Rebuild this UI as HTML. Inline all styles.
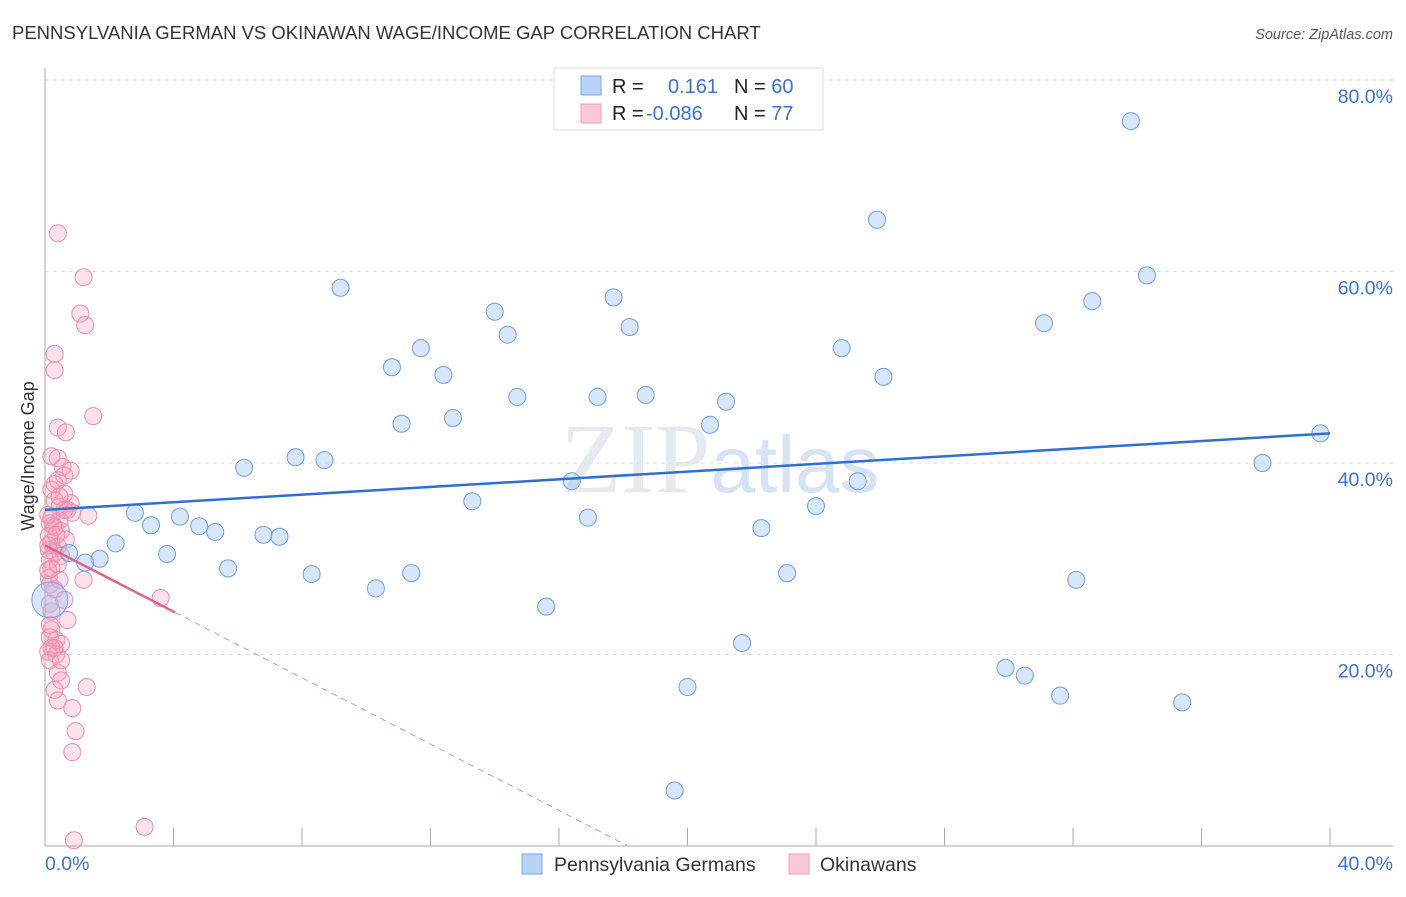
<!DOCTYPE html>
<html><head><meta charset="utf-8"><style>
body{margin:0;background:#fff;font-family:"Liberation Sans",sans-serif}
</style></head><body>
<svg id="c" width="1406" height="892" xmlns="http://www.w3.org/2000/svg">
<text x="12" y="39" font-size="18.5" fill="#333">PENNSYLVANIA GERMAN VS OKINAWAN WAGE/INCOME GAP CORRELATION CHART</text>
<text x="1393" y="39" font-size="14.5" fill="#555" font-style="italic" text-anchor="end">Source: ZipAtlas.com</text>
<text x="720" y="492" font-size="100" fill="#e6e9ee" text-anchor="middle" font-family="Liberation Serif,serif">ZIP<tspan fill="#d6e3f3" font-family="Liberation Sans,sans-serif" font-size="80">atlas</tspan></text>
<g id="grid"></g>
<g id="axes"></g>
<g id="pts"></g>
<g id="trend"></g>
<text transform="translate(34,456) rotate(-90)" font-size="18" fill="#333" text-anchor="middle">Wage/Income Gap</text>
<g>
<rect x="554" y="68" width="269" height="62" fill="#fff" stroke="#ddd"/>
<rect x="581" y="76" width="20" height="19" fill="#b8d3f5" stroke="#7aa7e6"/>
<rect x="581" y="104" width="20" height="19" fill="#fbc8d7" stroke="#ee9fb8"/>
<text x="612" y="93" font-size="20" fill="#222">R = <tspan fill="#3b73d1" x="668">0.161</tspan><tspan x="734" fill="#222">N = </tspan><tspan fill="#3b73d1">60</tspan></text>
<text x="612" y="120" font-size="20" fill="#222">R = <tspan fill="#3b73d1" x="646">-0.086</tspan><tspan x="734" fill="#222">N = </tspan><tspan fill="#3b73d1"> 77</tspan></text>
</g>
<g>
<rect x="522" y="854" width="20" height="20" fill="#b8d3f5" stroke="#7aa7e6"/>
<text x="554" y="871" font-size="19.5" fill="#333">Pennsylvania Germans</text>
<rect x="789" y="854" width="20" height="20" fill="#fbc8d7" stroke="#ee9fb8"/>
<text x="820" y="871" font-size="19.5" fill="#333">Okinawans</text>
</g>
</svg>
<script>
const yTicks=[20,40,60,80];
const xTickCount=10;
const blueX=[33.8,25.9,9.2,34.3,17.7,14.0,32.6,31.1,18.2,14.4,11.7,24.8,10.8,12.4,26.1,14.7,17.2,18.7,21.2,12.7,11.1,20.7,39.7,7.8,8.7,6.2,37.9,16.4,25.3,13.3,24.0,2.8,4.2,16.9,3.3,4.8,5.3,6.8,7.3,22.3,2.2,0.75,3.8,1.7,1.25,5.7,8.3,11.4,23.1,10.3,32.1,0.15,15.6,21.7,29.9,30.5,31.6,20.0,35.4,19.6];
const blueY=[75.7,65.4,58.3,59.6,57.3,55.8,56.9,54.6,54.2,53.4,52.0,52.0,50.0,49.2,49.0,46.9,46.9,47.1,46.4,44.7,44.1,44.0,43.1,40.6,40.3,39.5,40.0,38.1,38.1,36.0,35.5,34.8,34.4,34.3,33.5,33.4,32.8,32.5,32.3,33.2,31.6,30.6,30.5,30.0,29.6,29.0,28.4,28.5,28.5,26.9,27.8,25.7,25.0,21.2,18.6,17.8,15.7,16.6,15.0,5.8];
const pinkX=[0.4,1.2,1.1,1.25,0.3,0.3,1.5,0.4,0.65,0.4,0.55,0.6,0.3,0.2,0.6,0.3,0.8,0.45,0.7,0.85,1.35,0.2,0.45,0.15,0.3,0.5,0.12,0.2,0.4,0.12,0.3,0.5,0.15,0.4,0.2,0.12,1.2,0.15,3.6,0.15,0.7,0.2,0.15,0.35,0.5,0.2,0.1,0.35,0.15,0.4,0.5,1.3,0.4,0.85,0.95,0.85,0.9,3.1,0.1,0.25,0.45,0.6,0.3,0.15,0.5,0.3,0.1,0.65,0.2,0.4,0.8,0.2,0.45,0.35,0.1,0.6,0.3];
const pinkY=[64.0,59.4,55.6,54.4,51.4,49.7,44.9,43.7,43.2,40.5,39.6,38.7,37.8,37.2,36.8,36.1,35.8,35.4,35.1,34.8,34.5,34.3,34.0,33.7,33.3,32.9,32.4,31.7,31.3,30.9,30.6,30.3,29.9,29.4,29.0,28.0,27.8,27.3,25.9,25.3,23.6,22.6,21.8,21.5,21.1,20.7,20.3,20.0,19.4,18.1,17.3,16.6,15.2,14.4,12.0,9.8,0.6,2.0,31.4,33.5,36.5,35.1,26.8,23.1,19.4,16.3,28.8,32.0,24.5,38.2,39.2,40.7,27.8,32.5,34.6,25.7,20.7];
const blueTrend=[35.1,43.1];
const pinkTrend=[31.4,-37.8];
const NS="http://www.w3.org/2000/svg";
const sx=v=>45+v*1285/40, sy=v=>846-v*191.5/20;
function mk(tag,attrs,parent){const e=document.createElementNS(NS,tag);for(const k in attrs)e.setAttribute(k,attrs[k]);parent.appendChild(e);return e;}
const grid=document.getElementById('grid'),axes=document.getElementById('axes'),pts=document.getElementById('pts'),tr=document.getElementById('trend');
yTicks.forEach(t=>{
 const l=mk('line',{x1:45,x2:1393,y1:sy(t),y2:sy(t),stroke:'#ddd','stroke-dasharray':'4,4'},grid);
 
 
 const tx=mk('text',{x:1393,y:sy(t)+23,'font-size':19.5,fill:'#3b73d1','text-anchor':'end'},grid);
 tx.textContent=t.toFixed(1)+'%';
 
 
});
mk('line',{x1:45,x2:45,y1:68,y2:846,stroke:'#aaa'},axes);
mk('line',{x1:45,x2:1393,y1:846,y2:846,stroke:'#aaa'},axes);
for(let i=1;i<=xTickCount;i++){const x=sx(i*4);const t=mk('line',{x1:x,x2:x,y1:828,y2:846,stroke:'#aaa'},axes);
 
 }
const x0=mk('text',{x:45,y:870,'font-size':19.5,fill:'#3b73d1'},axes);x0.textContent='0.0%';


const x1=mk('text',{x:1393,y:870,'font-size':19.5,fill:'#3b73d1','text-anchor':'end'},axes);x1.textContent='40.0%';


pinkX.forEach((v,i)=>{const c=mk('circle',{cx:sx(v),cy:sy(pinkY[i]),r:8.5,fill:'rgba(245,160,188,0.3)',stroke:'#ea8fac','stroke-width':1},pts);
 
 });
blueX.forEach((v,i)=>{const c=mk('circle',{cx:sx(v),cy:sy(blueY[i]),r:i==51?18:8.5,fill:'rgba(160,196,240,0.42)',stroke:'#6f9fe0','stroke-width':1},pts);
 
 });
const bl=mk('line',{x1:sx(0),y1:sy(blueTrend[0]),x2:sx(40),y2:sy(blueTrend[1]),stroke:'#2f6fd0','stroke-width':2.5},tr);


const slope=(pinkTrend[1]-pinkTrend[0])/40;
const xz=-pinkTrend[0]/slope;
const pd=mk('line',{x1:sx(4.05),y1:sy(pinkTrend[0]+slope*4.05),x2:sx(xz),y2:sy(0),stroke:'#ea8fac','stroke-width':1,'stroke-dasharray':'6,5'},tr);


const pl=mk('line',{x1:sx(0),y1:sy(pinkTrend[0]),x2:sx(4.05),y2:sy(pinkTrend[0]+slope*4.05),stroke:'#e0628c','stroke-width':2.5},tr);


</script>
</body></html>
